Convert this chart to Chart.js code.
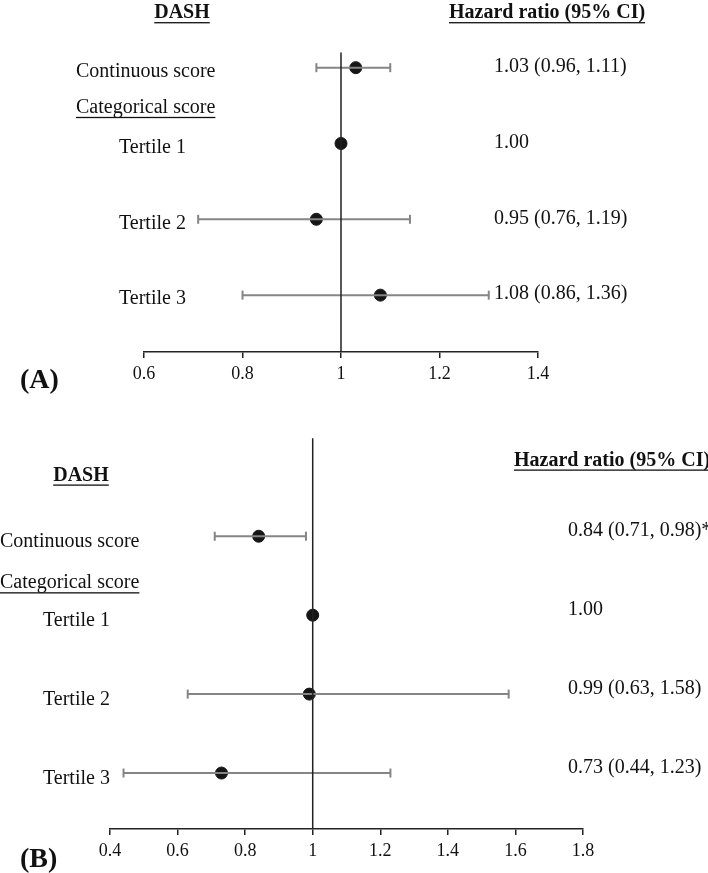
<!DOCTYPE html>
<html>
<head>
<meta charset="utf-8">
<script src="https://cdn.jsdelivr.net/npm/chart.js"></script>
<style>
  body { margin: 0; background: #fff; }
  .panel { position: absolute; left: 0; width: 708px; }
</style>
</head>
<body>
<div class="panel" style="top:0;height:400px"><canvas id="chartA"></canvas></div>
<div class="panel" style="top:420px;height:453px"><canvas id="chartB"></canvas></div>
<script>
const rowLabels = ['Continuous score', 'Tertile 1', 'Tertile 2', 'Tertile 3'];
const rowPos = [0, 1, 2, 3];

// (A) - whisker ends as they are drawn in the figure
const hrA = [1.03, 1.00, 0.95, 1.08];
const barLowA = [0.95, 1.00, 0.71, 0.80];
const barHighA = [1.10, 1.00, 1.14, 1.30];
const hrTextA = ['1.03 (0.96, 1.11)', '1.00', '0.95 (0.76, 1.19)', '1.08 (0.86, 1.36)'];
const ticksA = [0.6, 0.8, 1, 1.2, 1.4];

// (B)
const hrB = [0.84, 1.00, 0.99, 0.73];
const barLowB = [0.71, 1.00, 0.63, 0.44];
const barHighB = [0.98, 1.00, 1.58, 1.23];
const hrTextB = ['0.84 (0.71, 0.98)*', '1.00', '0.99 (0.63, 1.58)', '0.73 (0.44, 1.23)'];
const ticksB = [0.4, 0.6, 0.8, 1, 1.2, 1.4, 1.6, 1.8];

const refValue = 1;
const SERIF = '"Liberation Serif", "Times New Roman", serif';

function underlined(ctx, text, x, y, align) {
    ctx.textAlign = align;
    ctx.fillText(text, x, y);
    const w = ctx.measureText(text).width;
    const x0 = align === 'center' ? x - w / 2 : x;
    ctx.fillRect(x0, y + 9, w, 1.3);
}

const forestText = {
    id: 'forestText',
    afterDraw(chart, args, o) {
        const { ctx, scales: { y } } = chart;
        ctx.save();
        ctx.fillStyle = '#111';
        ctx.textBaseline = 'middle';
        ctx.textAlign = 'left';
        ctx.font = '20px ' + SERIF;
        rowLabels.forEach((t, i) => {
            ctx.fillText(t, i === 0 ? o.contX : o.tertX, y.getPixelForValue(rowPos[i]) + o.labelDy);
        });
        o.hrText.forEach((t, i) => {
            ctx.fillText(t, o.valX, y.getPixelForValue(rowPos[i]) + o.valDy);
        });
        underlined(ctx, 'Categorical score', o.contX, y.getPixelForValue(o.catRow), 'left');

        ctx.font = 'bold 20px ' + SERIF;
        underlined(ctx, 'DASH', o.dashX, y.getPixelForValue(o.dashRow), 'center');
        underlined(ctx, 'Hazard ratio (95% CI)', o.hazX, y.getPixelForValue(o.hazRow), 'left');

        ctx.font = 'bold 28px ' + SERIF;
        ctx.textAlign = 'left';
        ctx.fillText(o.letter, o.letterX, o.letterY);
        ctx.restore();
    }
};

function makePanel(id, p) {
    const datasets = [{
        type: 'line',
        data: [{ x: refValue, y: p.refTop }, { x: refValue, y: p.yMax }],
        borderColor: '#222',
        borderWidth: 1.5,
        pointRadius: 0
    }];
    p.hr.forEach((v, i) => {
        if (p.lo[i] === p.hi[i]) return; // reference category, no bar
        datasets.push({
            type: 'line',
            data: [{ x: p.lo[i], y: rowPos[i] }, { x: p.hi[i], y: rowPos[i] }],
            borderColor: '#858585',
            borderWidth: 2,
            pointStyle: 'line',
            rotation: 90,
            pointRadius: 4.5,
            pointBorderWidth: 2,
            pointBorderColor: '#858585'
        });
    });
    datasets.push({
        type: 'scatter',
        data: p.hr.map((v, i) => ({ x: v, y: rowPos[i] })),
        backgroundColor: '#161616',
        borderColor: '#161616',
        pointRadius: 6
    });

    return new Chart(document.getElementById(id), {
        type: 'scatter',
        data: { datasets },
        options: {
            responsive: true,
            maintainAspectRatio: false,
            animation: false,
            layout: { padding: { left: p.left, right: p.right, top: 0, bottom: 0 } },
            plugins: {
                legend: { display: false },
                tooltip: { enabled: false },
                forestText: p.text
            },
            scales: {
                x: {
                    type: 'linear',
                    min: p.ticks[0],
                    max: p.ticks[p.ticks.length - 1],
                    afterBuildTicks: (s) => { s.ticks = p.ticks.map(v => ({ value: v })); },
                    afterFit: (s) => { s.height = p.axisH; },
                    ticks: {
                        color: '#111',
                        padding: 5,
                        maxRotation: 0,
                        font: { family: SERIF, size: 18 },
                        callback: (v) => String(+v.toFixed(1))
                    },
                    grid: { drawOnChartArea: false, drawTicks: true, tickLength: 6, color: '#222', lineWidth: 1.5 },
                    border: { display: true, color: '#222', width: 1.5 }
                },
                y: {
                    type: 'linear',
                    display: false,
                    reverse: true,
                    min: p.yMin,
                    max: p.yMax
                }
            }
        },
        plugins: [forestText]
    });
}

makePanel('chartA', {
    hr: hrA, lo: barLowA, hi: barHighA, ticks: ticksA,
    left: 144, right: 170, axisH: 48,
    yMin: -0.80, yMax: 3.75, refTop: -0.2,
    text: {
        hrText: hrTextA, contX: 76, tertX: 119, valX: 494, labelDy: 4, valDy: -1,
        catRow: 0.53, dashX: 182, dashRow: -0.72, hazX: 449, hazRow: -0.72,
        letter: '(A)', letterX: 20, letterY: 381
    }
});

makePanel('chartB', {
    hr: hrB, lo: barLowB, hi: barHighB, ticks: ticksB,
    left: 110, right: 125, axisH: 44,
    yMin: -1.384, yMax: 3.709, refTop: -1.24,
    text: {
        hrText: hrTextB, contX: 0, tertX: 43, valX: 568, labelDy: 6, valDy: -5,
        catRow: 0.595, dashX: 81, dashRow: -0.77, hazX: 514, hazRow: -0.96,
        letter: '(B)', letterX: 20, letterY: 440
    }
});
</script>
</body>
</html>
